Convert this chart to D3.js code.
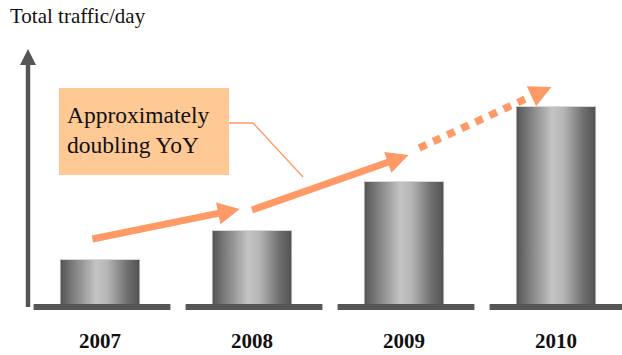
<!DOCTYPE html>
<html>
<head>
<meta charset="utf-8">
<script src="https://cdn.jsdelivr.net/npm/d3@7"></script>
<style>
  html, body { margin: 0; padding: 0; background: #ffffff; }
  svg { display: block; }
</style>
</head>
<body>
<svg id="chart" width="622" height="355"></svg>
<script>
// Yearly totals (relative traffic units)
const years = ["2007", "2008", "2009", "2010"];
const traffic = [45, 74, 123, 198];

// Trend arrows: position along the year axis (0 = first year) and trend level
const trendFrom = [[-0.05, 65], [1.0, 94], [2.1, 156]];
const trendTo = [[0.92, 95], [2.03, 149], [2.97, 217]];
const trendDotted = [false, false, true];

const titleText = "Total traffic/day";
const calloutLines = ["Approximately", "doubling YoY"];

const W = 622, H = 355;
const baseY = 304;
const svg = d3.select("#chart");

const x = d3.scaleBand().domain(years).range([24, 632]).padding(0);
const y = d3.scaleLinear().domain([0, 260]).range([baseY, baseY - 260]);
// Continuous index scale for annotations between year centres
const xi = d3.scaleLinear().domain([0, 1]).range([x(years[0]) + x.bandwidth() / 2, x(years[1]) + x.bandwidth() / 2]);

const orange = "#ff9966";
const serif = "Liberation Serif, Times New Roman, serif";

// Cylinder shading
const defs = svg.append("defs");
const grad = defs.append("linearGradient").attr("id", "cyl").attr("x1", "0%").attr("x2", "100%");
[[0, "#555555"], [0.15, "#7a7a7a"], [0.45, "#c4c4c4"], [0.6, "#b4b4b4"], [0.85, "#6e6e6e"], [1, "#525252"]]
  .forEach(([o, c]) => grad.append("stop").attr("offset", o).attr("stop-color", c));

// Title
svg.append("text")
  .attr("x", 10).attr("y", 23)
  .attr("font-family", serif)
  .attr("font-size", 21)
  .attr("fill", "#111")
  .text(titleText);

// Vertical axis arrow
svg.append("line")
  .attr("x1", 28).attr("x2", 28).attr("y1", 62).attr("y2", 307)
  .attr("stroke", "#555").attr("stroke-width", 4.5);
svg.append("path")
  .attr("d", "M28,49 L36,65 L20,65 Z")
  .attr("fill", "#555");

const bw = x.bandwidth();
const barW = bw * 0.52;
const plateW = bw * 0.9;

// Bars
const g = svg.append("g");
g.selectAll("rect.bar")
  .data(years)
  .join("rect")
  .attr("class", "bar")
  .attr("x", (d) => x(d) + (bw - barW) / 2)
  .attr("width", barW)
  .attr("y", (d, i) => y(traffic[i]))
  .attr("height", (d, i) => baseY - y(traffic[i]))
  .attr("fill", "url(#cyl)");
g.selectAll("line.top")
  .data(years)
  .join("line")
  .attr("class", "top")
  .attr("x1", (d) => x(d) + (bw - barW) / 2)
  .attr("x2", (d) => x(d) + (bw + barW) / 2)
  .attr("y1", (d, i) => y(traffic[i]) + 0.5)
  .attr("y2", (d, i) => y(traffic[i]) + 0.5)
  .attr("stroke", "#d8d8d8").attr("stroke-width", 1);

// Base plates
g.selectAll("rect.plate")
  .data(years)
  .join("rect")
  .attr("class", "plate")
  .attr("x", (d) => x(d) + (bw - plateW) / 2 + 2)
  .attr("width", plateW)
  .attr("y", baseY)
  .attr("height", 6)
  .attr("fill", "#565656");

// Year labels
svg.selectAll("text.year")
  .data(years)
  .join("text")
  .attr("class", "year")
  .attr("x", (d) => x(d) + bw / 2)
  .attr("y", 348)
  .attr("text-anchor", "middle")
  .attr("font-family", serif)
  .attr("font-weight", "bold")
  .attr("font-size", 21)
  .attr("fill", "#111")
  .text((d) => d);

// Trend arrows
const headLen = 22, headHalf = 11;
trendFrom.forEach((f, i) => {
  const t = trendTo[i];
  const x0 = xi(f[0]), y0 = y(f[1]);
  const x1 = xi(t[0]), y1 = y(t[1]);
  const dx = x1 - x0, dy = y1 - y0;
  const len = Math.hypot(dx, dy);
  const ux = dx / len, uy = dy / len;
  const bx = x1 - ux * headLen, by = y1 - uy * headLen;
  svg.append("line")
    .attr("x1", x0).attr("y1", y0)
    .attr("x2", bx + ux * 1).attr("y2", by + uy * 1)
    .attr("stroke", orange)
    .attr("stroke-width", trendDotted[i] ? 7.5 : 7)
    .attr("stroke-dasharray", trendDotted[i] ? "8,7.5" : null);
  svg.append("path")
    .attr("d", `M${x1},${y1} L${bx - uy * headHalf},${by + ux * headHalf} L${bx + uy * headHalf},${by - ux * headHalf} Z`)
    .attr("fill", orange);
});

// Callout
svg.append("polyline")
  .attr("points", "229,123 253,123 303,177")
  .attr("fill", "none")
  .attr("stroke", orange)
  .attr("stroke-width", 1.3);
svg.append("rect")
  .attr("x", 59).attr("y", 88)
  .attr("width", 170).attr("height", 87)
  .attr("fill", "#fec995");
svg.selectAll("text.callout")
  .data(calloutLines)
  .join("text")
  .attr("class", "callout")
  .attr("x", 67)
  .attr("y", (d, i) => 123 + i * 30)
  .attr("font-family", serif)
  .attr("font-size", 23.5)
  .attr("fill", "#111")
  .text((d) => d);
</script>
</body>
</html>
